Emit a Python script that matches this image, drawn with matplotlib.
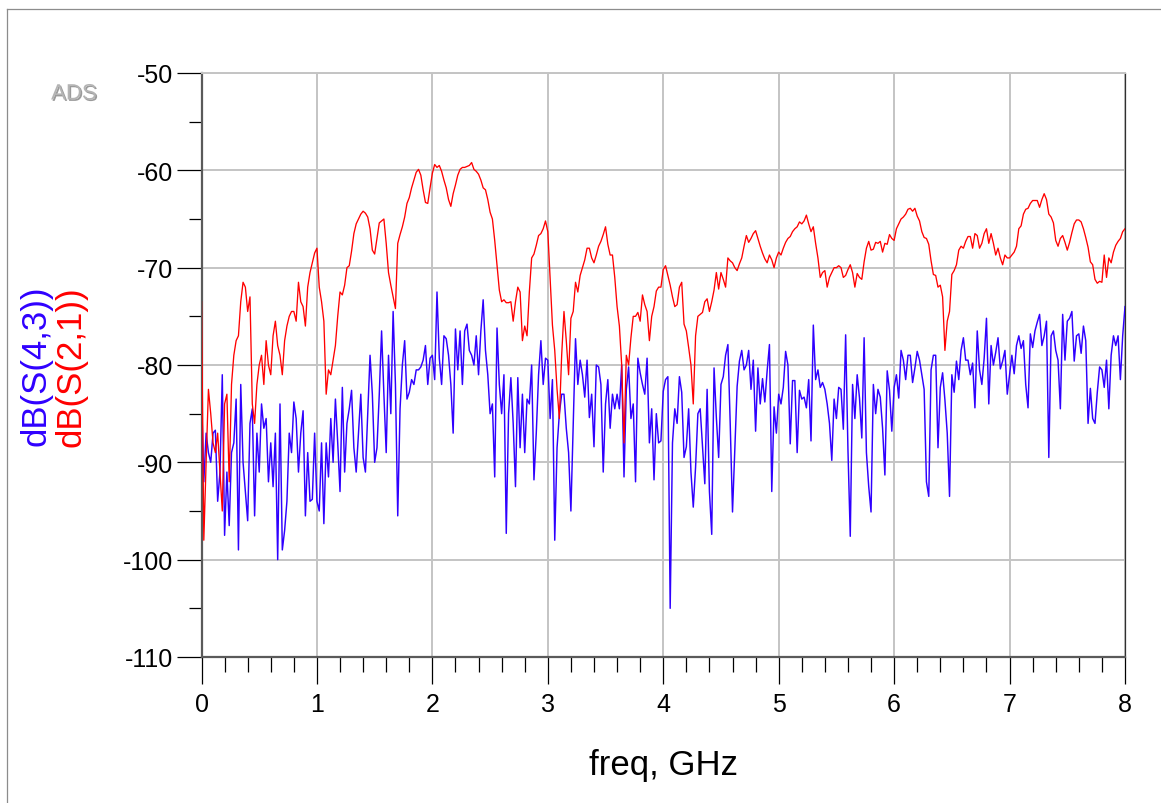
import numpy as np
import matplotlib
matplotlib.use("Agg")
import matplotlib.pyplot as plt
from matplotlib.ticker import MultipleLocator
from matplotlib.lines import Line2D
import matplotlib.patheffects as pe

plt.rcParams["axes.unicode_minus"] = False

# Frequency sweep: 0 to 8 GHz, 401 points (20 MHz step)
freq_start_ghz = 0.0
freq_stop_ghz = 8.0
n_points = 401
freq = np.linspace(freq_start_ghz, freq_stop_ghz, n_points)

# dB(S(2,1)) trace, one row per 0.2 GHz
s21_db = [
    -73.5, -98, -90, -82.5, -85, -88, -89, -87, -91, -95,
    -84, -83, -92, -82, -79, -77.5, -77, -73.5, -71.5, -72,
    -74.5, -73, -84, -86, -82, -80, -79, -82, -77.5, -80,
    -81, -77, -75.5, -78, -79, -81, -77.5, -76, -75, -74.5,
    -74.5, -75.5, -71.5, -73.5, -74, -76, -72, -70.5, -69.5, -68.5,
    -68, -72, -73.5, -75.5, -83, -80.5, -81, -79.5, -78, -75,
    -72.5, -72.8, -71.8, -70, -69.8, -68.3, -66.5, -65.5, -65, -64.5,
    -64.2, -64.4, -64.8, -66, -68.2, -68.6, -67, -65.4, -65.2, -65,
    -67.5, -70.5, -71.8, -73, -74.2, -67.5, -66.6, -65.8, -64.8, -63.4,
    -62.8, -61.8, -61, -60.2, -59.9, -60.5, -62, -63.3, -63.4, -61.8,
    -60.3, -59.4, -59.7, -59.5, -60.1, -61, -61.8, -63, -63.7, -62.4,
    -61.5, -60.5, -59.9, -59.7, -59.7, -59.6, -59.5, -59.2, -59.9, -60.1,
    -60.4, -61, -61.8, -62, -63, -64.3, -65, -67.2, -69.8, -72.3,
    -73.5, -73.3, -73.6, -73.6, -73.5, -75.5, -73.5, -72, -72.5, -77.5,
    -76, -77, -72.5, -69, -68.6, -67.7, -66.7, -66.5, -66, -65.2,
    -66.3, -71, -75.9, -78.5, -82.5, -85.5, -79, -74.5, -77.5, -81,
    -75.2, -74.5, -71.5, -72.5, -70.8, -70, -69.2, -68, -68, -69,
    -69.5, -68.7, -67.8, -67.3, -66.6, -65.8, -67.6, -68.7, -68.7, -71,
    -74, -76, -80, -88, -79, -80, -77.2, -75, -75, -74.6,
    -75.5, -72.8, -73.8, -74.5, -77.5, -75, -74, -72.4, -72, -72,
    -70.2, -69.8, -70.8, -71.8, -73, -74, -73.8, -72, -71.5, -75.8,
    -76.5, -78.2, -80, -84, -77, -75, -74.8, -74.6, -73.5, -73.2,
    -74.5, -73.5, -72.3, -70.5, -72.2, -70.5, -71.2, -72, -69, -69.3,
    -69.5, -70, -70.3, -69.6, -69, -67.8, -66.7, -67.4, -67, -66.5,
    -66.2, -67, -67.8, -68.5, -69.1, -69.5, -68.7, -69.2, -70, -69,
    -68.4, -68.7, -68, -67.4, -67, -66.8, -66.3, -66, -65.8, -65.3,
    -65.5, -65.2, -64.6, -65.5, -66.3, -65.8, -67.5, -69, -71, -70.5,
    -70.3, -72, -71, -70.5, -70, -70, -69.8, -70, -71, -70.8,
    -70.2, -69.7, -70.5, -72, -70.6, -71, -71.2, -69.4, -68, -67.3,
    -68.2, -68.1, -67.4, -67.5, -67.3, -68.4, -67.5, -67.6, -66.6, -67,
    -67.2, -66, -65.5, -65, -64.8, -64.5, -64, -63.9, -64.2, -63.9,
    -64.7, -65.2, -66.3, -66.9, -67, -67.6, -69.3, -70.7, -70.8, -72,
    -71.8, -73, -78.5, -75.5, -74.5, -70.7, -70.3, -69.7, -68.2, -67.8,
    -68, -67.3, -66.8, -66.8, -68, -66.5, -66.7, -68, -67.5, -66.5,
    -66, -67.5, -66.5, -67.5, -68.7, -68, -69, -69.7, -68.7, -69,
    -69, -68.7, -68.4, -67.8, -66, -65.7, -64.5, -64, -63.9, -63.4,
    -63.1, -63.1, -63.1, -63.8, -63, -62.4, -63, -64.5, -64.8, -65.4,
    -67.2, -67.8, -67, -66.7, -67.4, -68.2, -67.4, -66.4, -65.5, -65.1,
    -65.1, -65.3, -66, -66.9, -67.9, -69.4, -69.7, -71.2, -71.6, -71.4,
    -71.5, -68.7, -71, -69, -69.5, -68.4, -67.7, -67.3, -67, -66.3,
    -66,
]

# dB(S(4,3)) trace, one row per 0.2 GHz
s43_db = [
    -83, -92, -87, -89, -90, -87, -86.7, -94, -91, -81,
    -97.5, -91, -96.5, -89, -88, -83.5, -99, -82, -90, -93,
    -96, -86, -84.5, -95.5, -87, -91, -84, -86.5, -85.5, -92,
    -88, -92.5, -87, -100, -84, -99, -97, -94, -87, -89,
    -83.8, -85.5, -91, -87, -84.7, -95.5, -89, -94, -93.8, -87,
    -94, -95, -88, -96.3, -88, -91.5, -85.5, -90, -83.5, -88,
    -93, -82.3, -91, -86, -84.5, -82.6, -88.5, -91, -87, -83,
    -89.5, -91, -85, -79, -83, -90, -88.5, -83, -76.5, -83,
    -89, -79, -85, -74.5, -82, -95.5, -84.5, -80, -77.5, -83.5,
    -82.8, -81.5, -82, -80.5, -80.5, -80.2, -79.5, -78, -82, -79.3,
    -79, -81.5, -72.5, -79.3, -82, -77, -77.3, -79, -82, -87,
    -76.3, -80.5, -76.5, -82, -76.5, -75.8, -78.5, -79, -80, -77,
    -81, -76.5, -73.3, -78.5, -81, -85, -84, -91.5, -76.2, -82,
    -85, -81, -97.3, -85, -81.3, -86, -92.5, -81.3, -88.5, -83,
    -89, -83.5, -84, -80, -91.8, -87, -81, -77.5, -82, -79.3,
    -79.5, -85.5, -81.5, -98, -88.5, -85, -83, -83, -86.5, -89,
    -95, -86, -77.3, -82, -79.5, -81, -83.3, -79.5, -85.4, -83,
    -88.4, -80, -80.2, -82, -91, -84, -81.5, -86.5, -83, -84.5,
    -83, -84.5, -80, -91.5, -82.5, -80.2, -85.5, -84, -92, -79.3,
    -80.8, -82, -83, -79.3, -88, -84.5, -91.8, -85, -88, -87.8,
    -82.7, -81.5, -81.2, -105, -88, -84.5, -86, -81.2, -82.8, -89.5,
    -88.4, -84.5, -91, -94.6, -90.5, -85, -84.5, -88.4, -92.2, -82.5,
    -93, -97.4, -80.3, -85.4, -89.5, -82, -81.2, -79, -77.9, -86,
    -95.1, -88.5, -82.2, -79.6, -78.5, -80.5, -80, -78.5, -82.5, -79.5,
    -86.8, -80.3, -84, -81.4, -83.8, -80.6, -77.9, -93, -84.3, -87,
    -83, -84, -82.3, -78.6, -80, -88.1, -81.6, -81.6, -89, -82.6,
    -83.5, -83.3, -84.4, -81.5, -87.8, -75.9, -81.5, -80.5, -82.3, -81.8,
    -82.5, -84, -86, -89.8, -83.5, -85.5, -82.3, -82.5, -86.6, -76.9,
    -88.7, -97.6, -82, -85.5, -81, -83.4, -87.5, -77.2, -89, -92.5,
    -95.1, -82, -85, -82.5, -83.3, -86.5, -91.3, -80.6, -82.6, -86.8,
    -82.3, -81, -83.4, -78.5, -79.5, -81.5, -79, -79, -81.8, -80.3,
    -78.6, -79.5, -81, -82.5, -92, -93.5, -80.5, -79, -79, -88.5,
    -82.3, -80.8, -83.6, -87, -93.5, -81, -82.8, -79.6, -81.5, -78.5,
    -77.2, -79.5, -79.5, -81, -79.8, -84.4, -76.5, -80.5, -82, -79.3,
    -75.2, -84, -78, -80, -78.7, -77.2, -80.4, -79.6, -78.5, -83,
    -81, -79, -80.9, -78, -77, -78.3, -77.5, -82, -84.4, -76.8,
    -78.2, -76.5, -75.6, -74.8, -78, -77, -75.5, -89.5, -77, -76.5,
    -78.5, -79.5, -84.5, -74.8, -79.5, -75.5, -75.2, -74.5, -79.6, -77,
    -76.8, -78.8, -76, -77.5, -86, -82.4, -85.5, -86, -82.8, -80.2,
    -80.5, -82.3, -79.5, -84.5, -79, -77, -78, -77, -81.5, -77,
    -74,
]

y_ticks = [-110, -100, -90, -80, -70, -60, -50]
x_ticks = [0, 1, 2, 3, 4, 5, 6, 7, 8]

blue = "#2f00ff"
red = "#ff0000"
grid_gray = "#c4c4c4"
axis_gray = "#5a5a5a"
font = ["Liberation Sans", "DejaVu Sans"]

W, H = 1161, 804
fig = plt.figure(figsize=(W / 100, H / 100), dpi=100)
fig.patch.set_facecolor("white")

x0, x1 = 201.5, 1125.0
y0, y1 = 74.0, 658.0
ax = fig.add_axes([x0 / W, 1 - y1 / H, (x1 - x0) / W, (y1 - y0) / H])

ax.plot(freq, s43_db, color=blue, lw=1.05, zorder=3)
ax.plot(freq, s21_db, color=red, lw=0.95, zorder=4)

ax.set_xlim(0, 8)
ax.set_ylim(-110, -50)
ax.set_xticks(x_ticks)
ax.set_yticks(y_ticks)
ax.xaxis.set_minor_locator(MultipleLocator(0.2))
ax.yaxis.set_minor_locator(MultipleLocator(5))

ax.grid(True, which="major", color=grid_gray, lw=1.4, zorder=0)
ax.set_axisbelow(True)

ax.tick_params(axis="y", which="major", direction="out", length=18, width=0.9,
               color="black", pad=2.5, labelsize=18)
ax.tick_params(axis="y", which="minor", direction="out", length=9.5, width=0.9,
               color="black")
ax.tick_params(axis="x", which="major", direction="out", length=19.5, width=0.9,
               color="black", pad=6, labelsize=18)
ax.tick_params(axis="x", which="minor", direction="out", length=10.5, width=0.9,
               color="black")
for lbl in ax.get_xticklabels() + ax.get_yticklabels():
    lbl.set_family(font)

ax.spines["left"].set_color(axis_gray)
ax.spines["left"].set_linewidth(1.6)
ax.spines["bottom"].set_color(axis_gray)
ax.spines["bottom"].set_linewidth(1.6)
ax.spines["right"].set_color("#303030")
ax.spines["right"].set_linewidth(0.9)
ax.spines["top"].set_color(grid_gray)
ax.spines["top"].set_linewidth(1.4)

# axis titles
fig.text(663 / W, 1 - 766 / H, "freq, GHz", ha="center", va="center",
         fontsize=25, family=font)
fig.text(36 / W, 1 - 366 / H, "dB(S(4,3))", rotation=90, ha="center",
         va="center", fontsize=25, color=blue, family=font)
fig.text(71 / W, 1 - 367 / H, "dB(S(2,1))", rotation=90, ha="center",
         va="center", fontsize=25, color=red, family=font)

# ADS watermark
fig.text(74 / W, 1 - 95 / H, "ADS", ha="center", va="center", fontsize=16,
         color="#b4b4b4", family=font,
         path_effects=[pe.withSimplePatchShadow(offset=(1, -1),
                                                shadow_rgbFace="#707070",
                                                alpha=0.7)])

# outer frame (top and left edges)
fig.add_artist(Line2D([7 / W, 1.0], [1 - 10 / H, 1 - 10 / H],
                      transform=fig.transFigure, color="#8c8c8c", lw=0.9))
fig.add_artist(Line2D([7 / W, 7 / W], [1 - 10 / H, 0.0],
                      transform=fig.transFigure, color="#8c8c8c", lw=0.9))

fig.savefig("out.png", dpi=100, facecolor="white")
